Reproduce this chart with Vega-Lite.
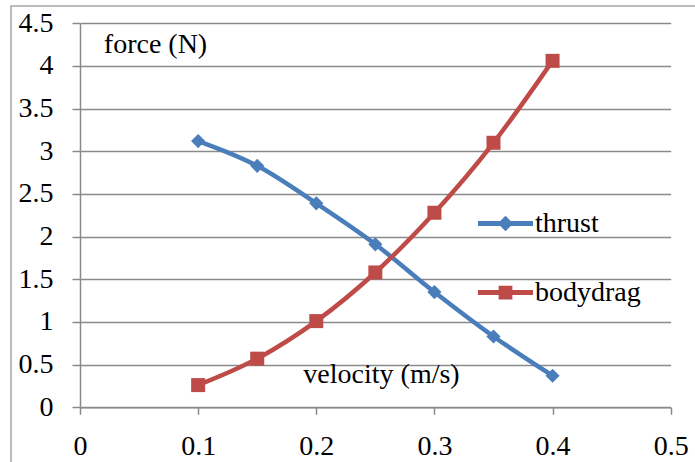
{
  "$schema": "https://vega.github.io/schema/vega-lite/v6.json",
  "autosize": {"type": "none"},
  "padding": {"left": 11, "top": 6, "right": 0, "bottom": 0},
  "width": 700,
  "height": 470,
  "background": "white",
  "config": {
    "view": {"stroke": "#a6a6a6", "strokeWidth": 1.5, "fill": "white"},
    "font": "Liberation Serif"
  },
  "data": {
    "values": [
      {"v": 0.10, "force": 3.12, "series": "thrust"},
      {"v": 0.15, "force": 2.83, "series": "thrust"},
      {"v": 0.20, "force": 2.39, "series": "thrust"},
      {"v": 0.25, "force": 1.91, "series": "thrust"},
      {"v": 0.30, "force": 1.35, "series": "thrust"},
      {"v": 0.35, "force": 0.83, "series": "thrust"},
      {"v": 0.40, "force": 0.37, "series": "thrust"},
      {"v": 0.10, "force": 0.26, "series": "bodydrag"},
      {"v": 0.15, "force": 0.57, "series": "bodydrag"},
      {"v": 0.20, "force": 1.01, "series": "bodydrag"},
      {"v": 0.25, "force": 1.58, "series": "bodydrag"},
      {"v": 0.30, "force": 2.28, "series": "bodydrag"},
      {"v": 0.35, "force": 3.10, "series": "bodydrag"},
      {"v": 0.40, "force": 4.06, "series": "bodydrag"}
    ]
  },
  "encoding": {
    "x": {
      "field": "v",
      "type": "quantitative",
      "scale": {"domain": [0, 0.5], "range": [69, 659.7], "nice": false, "zero": true},
      "axis": {
        "orient": "bottom",
        "offset": -68.7,
        "values": [0, 0.1, 0.2, 0.3, 0.4, 0.5],
        "format": ".1~f",
        "grid": false,
        "domainColor": "#8a8a8a",
        "domainWidth": 1.5,
        "tickColor": "#8a8a8a",
        "tickWidth": 1.5,
        "tickSize": 7,
        "labelFont": "Liberation Serif",
        "labelFontSize": 28,
        "labelColor": "black",
        "labelBaseline": "alphabetic",
        "labelPadding": 40,
        "labelFlush": false,
        "labelOverlap": false,
        "title": "velocity (m/s)",
        "titleFont": "Liberation Serif",
        "titleFontSize": 28,
        "titleFontWeight": "normal",
        "titleColor": "black",
        "titleAlign": "center",
        "titleBaseline": "alphabetic",
        "titleAngle": 0,
        "titleX": 370,
        "titleY": -25
      }
    },
    "y": {
      "field": "force",
      "type": "quantitative",
      "scale": {"domain": [0, 4.5], "range": [401.3, 17.3], "nice": false, "zero": true},
      "axis": {
        "orient": "left",
        "offset": -69,
        "values": [0, 0.5, 1, 1.5, 2, 2.5, 3, 3.5, 4, 4.5],
        "format": ".1~f",
        "grid": true,
        "gridColor": "#8a8a8a",
        "gridWidth": 1.5,
        "domainColor": "#8a8a8a",
        "domainWidth": 1.5,
        "tickColor": "#8a8a8a",
        "tickWidth": 1.5,
        "tickSize": 8,
        "labelFont": "Liberation Serif",
        "labelFontSize": 28,
        "labelColor": "black",
        "labelPadding": 19,
        "labelFlush": false,
        "labelOverlap": false,
        "title": "force (N)",
        "titleFont": "Liberation Serif",
        "titleFontSize": 28,
        "titleFontWeight": "normal",
        "titleColor": "black",
        "titleAlign": "center",
        "titleBaseline": "alphabetic",
        "titleAngle": 0,
        "titleX": 75,
        "titleY": 46
      }
    },
    "color": {
      "field": "series",
      "type": "nominal",
      "scale": {"domain": ["thrust", "bodydrag"], "range": ["#4a7ebb", "#be4b48"]},
      "legend": {
        "title": null,
        "orient": "none",
        "legendX": 467,
        "legendY": 190,
        "padding": 0,
        "symbolSize": 3025,
        "symbolStrokeWidth": 0,
        "symbolOpacity": 1,
        "labelFont": "Liberation Serif",
        "labelFontSize": 28,
        "labelColor": "black",
        "labelOffset": 2,
        "rowPadding": 27,
        "encode": {
          "symbols": {
            "update": {
              "shape": {"signal": "datum.value === 'thrust' ? 'M-1,-0.09H1V0.09H-1Z M0,-0.28L0.28,0L0,0.28L-0.28,0Z' : 'M-1,-0.09H1V0.09H-1Z M-0.25,-0.25H0.25V0.25H-0.25Z'"},
              "fill": {"scale": "color", "field": "value"},
              "stroke": {"value": "transparent"}
            }
          }
        }
      }
    }
  },
  "layer": [
    {
      "mark": {"type": "line", "interpolate": "monotone", "strokeWidth": 4.5, "strokeCap": "round", "strokeJoin": "round"}
    },
    {
      "transform": [{"filter": "datum.series === 'thrust'"}],
      "mark": {"type": "point", "shape": "diamond", "filled": true, "opacity": 1, "size": 200}
    },
    {
      "transform": [{"filter": "datum.series === 'bodydrag'"}],
      "mark": {"type": "point", "shape": "square", "filled": true, "opacity": 1, "size": 196}
    }
  ]
}
